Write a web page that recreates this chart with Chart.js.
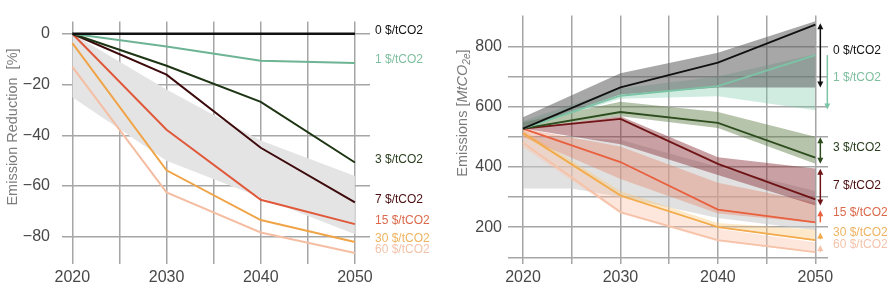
<!DOCTYPE html>
<html>
<head>
<meta charset="utf-8">
<script src="https://cdn.jsdelivr.net/npm/chart.js@4.4.1/dist/chart.umd.min.js"></script>
<style>
    html, body { margin: 0; padding: 0; background: #fff; }
    .wrap { display: flex; width: 893px; height: 292px; }
    canvas { display: block; }
</style>
</head>
<body>
<div class="wrap">
    <canvas id="reductionChart" width="445" height="292"></canvas>
    <canvas id="emissionsChart" width="448" height="292"></canvas>
</div>
<script>
// axes
const years = [2020, 2030, 2040, 2050];
const gridYears = [2020, 2025, 2030, 2035, 2040, 2045, 2050];
const yearLabels = [2020, 2030, 2040, 2050];
const priceLabels = ['0 $/tCO2', '1 $/tCO2', '3 $/tCO2', '7 $/tCO2', '15 $/tCO2', '30 $/tCO2', '60 $/tCO2'];
const reductionTicks = [0, -20, -40, -60, -80];
const emissionGrid = [100, 200, 300, 400, 500, 600, 700, 800];
const emissionTickLabels = [200, 400, 600, 800];

// left: emission reduction [%]
const reduction0 = [0, 0, 0, 0];
const reduction1 = [0, -5, -10.6, -11.5];
const reduction3 = [0, -12.6, -26.8, -50.7];
const reduction7 = [0, -16.1, -44.9, -66.4];
const reduction15 = [0, -37.8, -65.4, -75];
const reduction30 = [-3.7, -53.8, -73.4, -82];
const reduction60 = [-13, -62.5, -78.3, -86.4];
const reductionBandHigh = [0, -22, -42, -56];
const reductionBandLow = [-25, -50, -64.5, -79];

// right: emissions [MtCO2e], centre line + range
const emissions0 = [527, 664, 746, 872];
const emissions0High = [565, 711, 779, 883];
const emissions0Low = [527, 640, 663, 663];
const emissions1 = [527, 636, 668, 771];
const emissions1High = [552, 660, 700, 774];
const emissions1Low = [527, 626, 634, 588];
const emissions3 = [527, 582, 546, 431];
const emissions3High = [548, 616, 582, 500];
const emissions3Low = [527, 568, 529, 410];
const emissions7 = [527, 559, 410, 292];
const emissions7High = [527, 568, 432, 395];
const emissions7Low = [527, 475, 373, 272];
const emissions15 = [527, 416, 258, 216];
const emissions15High = [527, 468, 347, 282];
const emissions15Low = [500, 360, 245, 214];
const emissions30 = [512, 305, 200, 157];
const emissions30High = [522, 320, 214, 191];
const emissions30Low = [505, 300, 198, 155];
const emissions60 = [480, 250, 157, 117];
const emissions60High = [515, 304, 195, 150];
const emissions60Low = [465, 245, 152, 115];
const greyYears = [2020, 2025, 2030, 2040, 2050];
const greyHigh = [500, 495, 490, 400, 320];
const greyLow = [328, 328, 300, 230, 190];

// right: arrows at 2050 and label anchors
const arrowHigh = [877, 771, 498, 394, 256, 182, 141];
const arrowLow = [663, 590, 410, 272, 216, 160, 117];
const arrowHeads = ['both', 'down', 'both', 'both', 'up', 'up', 'up'];
const rightLabelAt = [784, 695, 465, 339, 247, 183, 141];

const reductionSeries = [reduction0, reduction1, reduction3, reduction7, reduction15, reduction30, reduction60];
const emissionSeries = [emissions0, emissions1, emissions3, emissions7, emissions15, emissions30, emissions60];
const emissionHigh = [emissions0High, emissions1High, emissions3High, emissions7High, emissions15High, emissions30High, emissions60High];
const emissionLow = [emissions0Low, emissions1Low, emissions3Low, emissions7Low, emissions15Low, emissions30Low, emissions60Low];

// styles
const leftLineColours = ['#111111', '#6db495', '#1d3514', '#3d0b0c', '#e0593a', '#f0a448', '#f5bea3'];
const rightLineColours = ['#111111', '#7cc4a6', '#2e4d1e', '#6e1416', '#e8603e', '#f2aa4c', '#f6c2a8'];
const labelColours = ['#111111', '#7fbf9f', '#2b3f1f', '#4b0f12', '#db6a4d', '#efb461', '#f3c3ab'];
const bandColours = [
    'rgba(95, 95, 95, 0.55)',
    'rgba(120, 200, 170, 0.35)',
    'rgba(95, 125, 70, 0.45)',
    'rgba(135, 45, 50, 0.45)',
    'rgba(230, 120, 90, 0.35)',
    'rgba(250, 200, 120, 0.4)',
    'rgba(250, 195, 170, 0.4)',
];
const gridColour = '#a6a6a6';
const tickColour = '#484848';
const titleColour = '#7c7c7c';

Chart.defaults.font.family = 'Arial, "Liberation Sans", Helvetica, sans-serif';

const toPoints = (xs, ys) => xs.map((x, i) => ({ x: x, y: ys[i] }));

function xAxis(min, max) {
    return {
        type: 'linear',
        min: min,
        max: max,
        afterBuildTicks: s => { s.ticks = gridYears.map(v => ({ value: v })); },
        afterFit: s => { s.height = 28; },
        ticks: {
            autoSkip: false,
            maxRotation: 0,
            padding: 4,
            color: tickColour,
            font: { size: 16 },
            callback: v => yearLabels.includes(v) ? String(v) : '',
        },
        grid: { color: gridColour, lineWidth: 1.5, drawTicks: false },
        border: { display: false },
    };
}

// side labels next to the 2050 end
const sideLabels = {
    id: 'sideLabels',
    afterDatasetsDraw(chart, args, opts) {
        const { ctx } = chart;
        const y = chart.scales.y;
        const x = chart.chartArea.right + 5;
        ctx.save();
        ctx.font = '12px Arial, "Liberation Sans", sans-serif';
        ctx.textBaseline = 'middle';
        ctx.textAlign = 'left';
        opts.values.forEach((v, i) => {
            ctx.fillStyle = labelColours[i];
            ctx.fillText(priceLabels[i], x, y.getPixelForValue(v) + opts.shift);
        });
        ctx.restore();
    },
};

// rotated axis title made of text pieces
const axisTitle = {
    id: 'axisTitle',
    afterDraw(chart, args, opts) {
        const { ctx } = chart;
        const size = 14.5;
        ctx.save();
        ctx.fillStyle = titleColour;
        ctx.textBaseline = 'middle';
        const fontFor = p => (p.italic ? 'italic ' : '') + (p.sub ? size * 0.7 : size) + 'px Arial, "Liberation Sans", sans-serif';
        let total = 0;
        opts.parts.forEach(p => { ctx.font = fontFor(p); total += ctx.measureText(p.text).width; });
        ctx.translate(opts.x, opts.y);
        ctx.rotate(-Math.PI / 2);
        let pos = -total / 2;
        opts.parts.forEach(p => {
            ctx.font = fontFor(p);
            ctx.fillText(p.text, pos, p.sub ? 4 : 0);
            pos += ctx.measureText(p.text).width;
        });
        ctx.restore();
    },
};

// range arrows at 2050
const rangeArrows = {
    id: 'rangeArrows',
    afterDatasetsDraw(chart) {
        const { ctx } = chart;
        const { x, y } = chart.scales;
        const base = x.getPixelForValue(years[years.length - 1]);
        ctx.save();
        arrowHigh.forEach((hi, i) => {
            const px = base + (i === 1 ? 12 : 5);
            const top = y.getPixelForValue(hi);
            const bot = y.getPixelForValue(arrowLow[i]);
            const up = arrowHeads[i] === 'both' || arrowHeads[i] === 'up';
            const down = arrowHeads[i] === 'both' || arrowHeads[i] === 'down';
            ctx.strokeStyle = rightLineColours[i];
            ctx.fillStyle = rightLineColours[i];
            ctx.lineWidth = 1.5;
            ctx.beginPath();
            ctx.moveTo(px, top + (up ? 4 : 0));
            ctx.lineTo(px, bot - (down ? 4 : 0));
            ctx.stroke();
            if (up) {
                ctx.beginPath();
                ctx.moveTo(px, top);
                ctx.lineTo(px - 3, top + 6);
                ctx.lineTo(px + 3, top + 6);
                ctx.closePath();
                ctx.fill();
            }
            if (down) {
                ctx.beginPath();
                ctx.moveTo(px, bot);
                ctx.lineTo(px - 3, bot - 6);
                ctx.lineTo(px + 3, bot - 6);
                ctx.closePath();
                ctx.fill();
            }
        });
        ctx.restore();
    },
};

// 1. Emission reduction chart
const leftDatasets = priceLabels.map((label, i) => ({
    label: label,
    data: toPoints(years, reductionSeries[i]),
    borderColor: leftLineColours[i],
    borderWidth: i === 0 ? 2.5 : 2,
    pointRadius: 0,
    fill: false,
    order: 1,
}));
leftDatasets.push({
    label: 'range high',
    data: toPoints(years, reductionBandHigh),
    borderWidth: 0,
    pointRadius: 0,
    backgroundColor: '#e4e4e4',
    fill: '+1',
    order: 2,
});
leftDatasets.push({
    label: 'range low',
    data: toPoints(years, reductionBandLow),
    borderWidth: 0,
    pointRadius: 0,
    fill: false,
    order: 2,
});

new Chart(document.querySelector('#reductionChart'), {
    type: 'line',
    data: { datasets: leftDatasets },
    options: {
        responsive: false,
        animation: false,
        events: [],
        layout: { padding: { top: 5, right: 75, left: 0, bottom: 0 } },
        scales: {
            x: xAxis(2018.9, 2051.6),
            y: {
                min: -90.7,
                max: 4.8,
                afterBuildTicks: s => { s.ticks = reductionTicks.map(v => ({ value: v })); },
                afterFit: s => { s.width = 62; },
                ticks: {
                    padding: 12,
                    color: tickColour,
                    font: { size: 16 },
                    callback: v => v < 0 ? '\u2212' + Math.abs(v) : String(v),
                },
                grid: { color: gridColour, lineWidth: 1.5, drawTicks: false },
                border: { display: false },
            },
        },
        plugins: {
            legend: { display: false },
            tooltip: { enabled: false },
            sideLabels: { values: reductionSeries.map(s => s[s.length - 1]), shift: -3 },
            axisTitle: { x: 13, y: 127, parts: [{ text: 'Emission Reduction  [%]' }] },
        },
    },
    plugins: [sideLabels, axisTitle],
});

// 2. Emissions chart
const rightDatasets = priceLabels.map((label, i) => ({
    label: label,
    data: toPoints(years, emissionSeries[i]),
    borderColor: rightLineColours[i],
    borderWidth: 1.8,
    pointRadius: 0,
    fill: false,
    order: 1,
}));
priceLabels.forEach((label, i) => {
    rightDatasets.push({
        label: label + ' high',
        data: toPoints(years, emissionHigh[i]),
        borderWidth: 0,
        pointRadius: 0,
        backgroundColor: bandColours[i],
        fill: '+1',
        order: 2,
    });
    rightDatasets.push({
        label: label + ' low',
        data: toPoints(years, emissionLow[i]),
        borderWidth: 0,
        pointRadius: 0,
        fill: false,
        order: 2,
    });
});
rightDatasets.push({
    label: 'range high',
    data: toPoints(greyYears, greyHigh),
    borderWidth: 0,
    pointRadius: 0,
    backgroundColor: 'rgba(200, 200, 200, 0.55)',
    fill: '+1',
    order: 3,
});
rightDatasets.push({
    label: 'range low',
    data: toPoints(greyYears, greyLow),
    borderWidth: 0,
    pointRadius: 0,
    fill: false,
    order: 3,
});

new Chart(document.querySelector('#emissionsChart'), {
    type: 'line',
    data: { datasets: rightDatasets },
    options: {
        responsive: false,
        animation: false,
        events: [],
        layout: { padding: { top: 5, right: 65, left: 0, bottom: 0 } },
        scales: {
            x: xAxis(2018.46, 2051.3),
            y: {
                min: 77.7,
                max: 902,
                afterBuildTicks: s => { s.ticks = emissionGrid.map(v => ({ value: v })); },
                afterFit: s => { s.width = 63; },
                ticks: {
                    padding: 6,
                    color: tickColour,
                    font: { size: 16 },
                    callback: v => emissionTickLabels.includes(v) ? String(v) : '',
                },
                grid: { color: gridColour, lineWidth: 1.5, drawTicks: false },
                border: { display: false },
            },
        },
        plugins: {
            legend: { display: false },
            tooltip: { enabled: false },
            sideLabels: { values: rightLabelAt, shift: 0 },
            axisTitle: {
                x: 18,
                y: 113,
                parts: [
                    { text: 'Emissions [' },
                    { text: 'MtCO', italic: true },
                    { text: '2e', italic: true, sub: true },
                    { text: ']' },
                ],
            },
        },
    },
    plugins: [sideLabels, axisTitle, rangeArrows],
});
</script>
</body>
</html>
